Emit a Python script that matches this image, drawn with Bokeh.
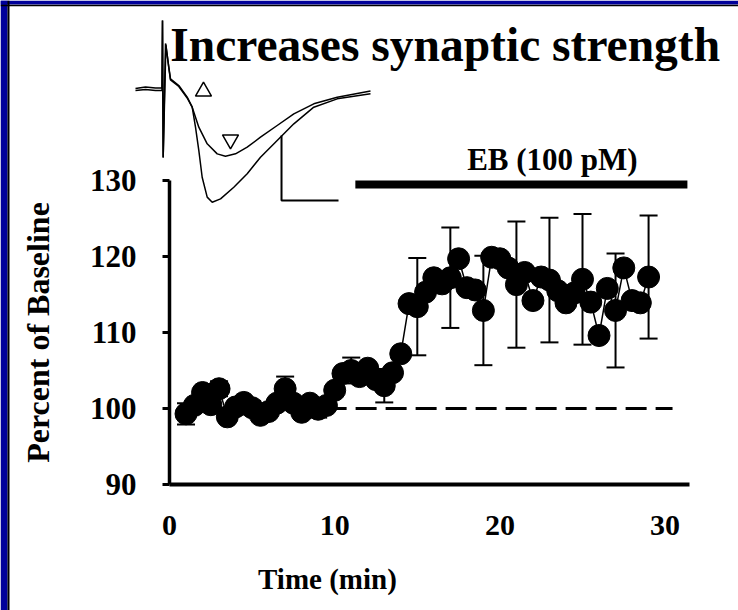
from bokeh.plotting import figure
from bokeh.models import (Range1d, LinearAxis, FixedTicker, Whisker, TeeHead,
                          ColumnDataSource, Label, Span, BoxAnnotation)
from bokeh.embed import file_html
from bokeh.resources import INLINE

# ---------------- data ----------------
time_min = [1.0, 1.5, 2.0, 2.5, 3.0, 3.5, 4.0, 4.5, 5.0, 5.5,
            6.0, 6.5, 7.0, 7.5, 8.0, 8.5, 9.0, 9.5, 10.0, 10.5,
            11.0, 11.5, 12.0, 12.5, 13.0, 13.5, 14.0, 14.5, 15.0, 15.5,
            16.0, 16.5, 17.0, 17.5, 18.0, 18.5, 19.0, 19.5, 20.0, 20.5,
            21.0, 21.5, 22.0, 22.5, 23.0, 23.5, 24.0, 24.5, 25.0, 25.5,
            26.0, 26.5, 27.0, 27.5, 28.0, 28.5, 29.0]
percent = [99.3, 100.4, 102.1, 100.5, 102.6, 98.9, 100.2, 100.8, 100.1, 99.1,
           99.6, 100.7, 102.6, 100.7, 99.5, 100.7, 99.9, 100.4, 102.4, 104.6,
           105.0, 104.2, 105.3, 103.8, 103.0, 104.7, 107.2, 113.8, 113.4, 115.3,
           117.2, 116.4, 117.2, 119.7, 115.9, 115.6, 112.9, 119.9, 119.7, 118.5,
           116.3, 117.9, 114.2, 117.3, 116.9, 115.5, 113.9, 115.2, 117.0, 114.0,
           109.6, 115.8, 112.9, 118.5, 114.2, 113.9, 117.3]

err_time = [1, 3, 5, 7, 9, 11, 13, 15, 17, 19, 21, 23, 25, 27, 29]
err_sem = [1.4, 1.0, 0.9, 1.6, 1.1, 1.7, 2.2, 6.4, 6.6, 7.2, 8.3, 8.2, 8.6, 7.5, 8.1]

baseline_t = [9.45, 30.45]
baseline_v = [100, 100]

eb_t = [11.25, 31.35]
eb_v = [129.47, 129.47]
eb_text = "EB (100 pM)"

y_ticks = [90, 100, 110, 120, 130]
x_ticks = [0, 10, 20, 30]

# example EPSC traces (ms, pA)
trace_a_ms = [-4.74, -2.98, -1.23, -0.09, 0.0, 0.12, 0.53, 1.11, 1.40, 2.86,
              4.33, 5.21, 6.37, 7.84, 9.60, 11.05, 12.81, 14.86, 17.19, 20.12,
              23.04, 26.54, 30.65, 36.49]
trace_a_pA = [0.77, 1.92, 1.15, 1.15, 53.1, -52.3, 35.4, 17.2, 8.2, 3.1,
              -5.9, -13.6, -29.0, -41.8, -49.5, -51.3, -49.5, -44.4, -36.7, -27.7,
              -18.7, -11.0, -5.9, -1.2]
trace_b_ms = [-4.74, -2.98, -1.23, -0.09, 0.0, 0.12, 0.60, 1.11, 1.40, 2.86,
              4.33, 5.21, 5.79, 6.37, 6.96, 7.84, 8.72, 10.18, 12.51, 14.86,
              17.19, 20.12, 23.04, 26.54, 30.65, 36.49]
trace_b_pA = [-0.77, 0.0, -0.77, -0.77, 53.1, -52.3, 34.6, 16.4, 7.4, 2.3,
              -6.5, -13.6, -29.0, -46.9, -67.5, -82.8, -86.7, -84.1, -75.2, -64.8,
              -52.1, -39.2, -26.4, -13.6, -7.2, -3.3]
mark_up_ms, mark_up_pA = [7.19], [-1.5]
mark_down_ms, mark_down_pA = [11.93], [-38.5]
scalebar_ms = [20.88, 20.88, 30.88]
scalebar_pA = [-35.4, -85.4, -85.4]

title_text = "Increases synaptic strength"
x_title = "Time (min)"
y_title = "Percent of Baseline"

# ---------------- figure ----------------
FONT = "Liberation Serif"
SLIDE_BLUE = "#00009A"

X0, X1 = -10.230, 34.443
Y0, Y1 = 73.421, 153.684

p = figure(width=738, height=610,
           x_range=Range1d(X0, X1), y_range=Range1d(Y0, Y1),
           x_axis_type=None, y_axis_type=None,
           output_backend="svg", toolbar_location=None, min_border=0)
p.title.visible = False
p.outline_line_color = None
p.background_fill_color = "white"
p.border_fill_color = "white"

p.extra_x_ranges = {"ms": Range1d(-28.42, 101.05)}
p.extra_y_ranges = {"pA": Range1d(-400.77, 68.46)}

# slide frame (blue bands with a dark edge)
p.add_layout(BoxAnnotation(left=X0, right=-9.806, bottom=Y0, top=Y1,
                           fill_color=SLIDE_BLUE, fill_alpha=1,
                           line_color=None, level="underlay"))
p.add_layout(BoxAnnotation(left=X0, right=X1, bottom=153.158, top=Y1,
                           fill_color=SLIDE_BLUE, fill_alpha=1,
                           line_color=None, level="underlay"))
p.add_layout(Span(location=-9.746, dimension="height",
                  line_color="black", line_width=2))
p.add_layout(Span(location=153.026, dimension="width",
                  line_color="black", line_width=1.5))

# axes
yaxis = LinearAxis(fixed_location=0, bounds=(90, 130),
                   ticker=FixedTicker(ticks=y_ticks, minor_ticks=[]))
yaxis.axis_line_width = 3.5
yaxis.major_tick_line_width = 3
yaxis.major_tick_out = 7
yaxis.major_tick_in = 0
yaxis.minor_tick_out = 0
yaxis.major_label_standoff = 26
yaxis.major_label_text_font = FONT
yaxis.major_label_text_font_style = "bold"
yaxis.major_label_text_font_size = "31px"
yaxis.major_label_text_color = "black"
yaxis.axis_label = y_title
yaxis.axis_label_text_font = FONT
yaxis.axis_label_text_font_style = "bold"
yaxis.axis_label_text_font_size = "32px"
yaxis.axis_label_text_color = "black"
yaxis.axis_label_standoff = 31
p.add_layout(yaxis, "left")

xaxis = LinearAxis(fixed_location=90, bounds=(0, 31.45),
                   ticker=FixedTicker(ticks=x_ticks, minor_ticks=[]))
xaxis.axis_line_width = 4
xaxis.major_tick_out = 0
xaxis.major_tick_in = 0
xaxis.minor_tick_out = 0
xaxis.major_label_standoff = 32
xaxis.major_label_text_font = FONT
xaxis.major_label_text_font_style = "bold"
xaxis.major_label_text_font_size = "30px"
xaxis.major_label_text_color = "black"
p.add_layout(xaxis, "below")

# reference line and EB bar
p.line(baseline_t, baseline_v, line_color="black", line_width=3, line_dash="21 9")
p.line(eb_t, eb_v, line_color="black", line_width=8, line_cap="butt")

# error bars
lookup = dict(zip(time_min, percent))
err_src = ColumnDataSource(data=dict(
    base=err_time,
    upper=[lookup[t] + e for t, e in zip(err_time, err_sem)],
    lower=[lookup[t] - e for t, e in zip(err_time, err_sem)]))
p.add_layout(Whisker(base="base", upper="upper", lower="lower", source=err_src,
                     dimension="height", line_color="black", line_width=2,
                     upper_head=TeeHead(size=18, line_width=2, line_color="black"),
                     lower_head=TeeHead(size=18, line_width=2, line_color="black")))

# data series
p.line(time_min, percent, line_color="black", line_width=1.5)
p.scatter(time_min, percent, marker="circle", size=22,
          fill_color="black", line_color="black")

# inset traces
for xs, ys in ((trace_a_ms, trace_a_pA), (trace_b_ms, trace_b_pA)):
    p.line(xs, ys, x_range_name="ms", y_range_name="pA",
           line_color="black", line_width=1.5)
p.scatter(mark_up_ms, mark_up_pA, marker="triangle", size=16,
          x_range_name="ms", y_range_name="pA",
          fill_color=None, line_color="black", line_width=1.5)
p.scatter(mark_down_ms, mark_down_pA, marker="inverted_triangle", size=16,
          x_range_name="ms", y_range_name="pA",
          fill_color=None, line_color="black", line_width=1.5)
p.line(scalebar_ms, scalebar_pA, x_range_name="ms", y_range_name="pA",
       line_color="black", line_width=2)

# texts
p.add_layout(Label(x=0.05, y=147.89, text=title_text, text_font=FONT,
                   text_font_style="bold", text_font_size="47.5px",
                   text_color="black", text_align="left",
                   text_baseline="middle"))
p.add_layout(Label(x=23.18, y=132.8, text=eb_text, text_font=FONT,
                   text_font_style="bold", text_font_size="31px",
                   text_color="black", text_align="center",
                   text_baseline="middle"))
p.add_layout(Label(x=9.56, y=77.63, text=x_title, text_font=FONT,
                   text_font_style="bold", text_font_size="29px",
                   text_color="black", text_align="center",
                   text_baseline="middle"))

open("out.html", "w").write(file_html(p, INLINE))
